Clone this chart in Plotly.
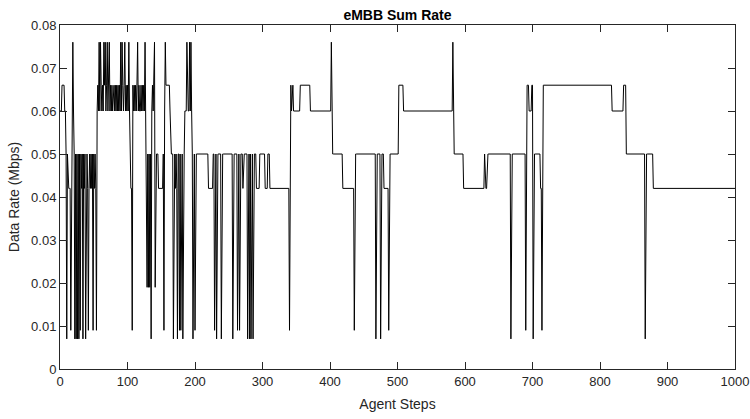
import plotly.graph_objects as go

# Run-length reading of the eMBB sum-rate trace: each run starts at run_start
# and holds run_value until the next run starts.
run_start = [
    0, 3, 7, 9, 10, 11, 12, 16, 17, 18, 19, 20, 21, 22, 23, 24, 25, 26, 27, 28,
    29, 30, 31, 32, 33, 34, 35, 36, 37, 38, 39, 41, 42, 43, 44, 45, 46, 47, 48, 49,
    50, 51, 52, 53, 54, 55, 56, 57, 58, 59, 60, 61, 62, 63, 64, 65, 66, 67, 68, 69,
    70, 71, 72, 73, 74, 75, 76, 77, 78, 79, 81, 82, 83, 84, 85, 86, 87, 88, 89, 90,
    91, 92, 93, 94, 95, 96, 97, 98, 99, 100, 101, 102, 103, 104, 105, 107, 108, 109, 110, 111,
    112, 113, 114, 115, 116, 117, 118, 120, 121, 122, 123, 124, 125, 126, 127, 128, 129, 130, 131, 132,
    133, 134, 135, 136, 137, 138, 139, 140, 141, 142, 146, 153, 154, 155, 156, 157, 163, 164, 168, 169,
    171, 172, 173, 174, 175, 177, 178, 179, 180, 182, 183, 185, 188, 189, 192, 193, 194, 195, 196, 197,
    198, 200, 201, 220, 227, 229, 230, 232, 233, 239, 240, 256, 257, 263, 264, 266, 267, 271, 272, 278,
    279, 281, 282, 283, 284, 286, 287, 291, 296, 304, 308, 311, 340, 341, 342, 343, 344, 346, 356, 371,
    402, 403, 419, 436, 437, 468, 469, 475, 476, 480, 487, 488, 502, 509, 582, 583, 598, 629, 630, 633,
    668, 669, 690, 691, 695, 699, 701, 702, 712, 714, 715, 818, 835, 839, 867, 868, 879,
]
run_value = [
    0.060, 0.066, 0.060, 0.050, 0.007, 0.050, 0.042, 0.009, 0.042, 0.060, 0.076, 0.060, 0.050, 0.007, 0.050, 0.007, 0.050, 0.007, 0.050, 0.007,
    0.050, 0.009, 0.050, 0.042, 0.050, 0.007, 0.050, 0.042, 0.050, 0.007, 0.050, 0.042, 0.009, 0.042, 0.050, 0.042, 0.050, 0.042, 0.050, 0.009,
    0.050, 0.042, 0.050, 0.042, 0.009, 0.060, 0.066, 0.060, 0.076, 0.060, 0.076, 0.066, 0.060, 0.066, 0.060, 0.076, 0.066, 0.076, 0.060, 0.066,
    0.076, 0.060, 0.066, 0.076, 0.060, 0.066, 0.060, 0.066, 0.060, 0.066, 0.060, 0.066, 0.060, 0.066, 0.060, 0.066, 0.060, 0.066, 0.060, 0.076,
    0.060, 0.076, 0.066, 0.060, 0.066, 0.076, 0.060, 0.066, 0.060, 0.066, 0.060, 0.076, 0.060, 0.050, 0.042, 0.009, 0.066, 0.060, 0.066, 0.060,
    0.066, 0.060, 0.066, 0.076, 0.060, 0.066, 0.060, 0.066, 0.060, 0.066, 0.060, 0.066, 0.060, 0.076, 0.060, 0.050, 0.019, 0.050, 0.019, 0.050,
    0.019, 0.050, 0.007, 0.060, 0.066, 0.060, 0.066, 0.076, 0.019, 0.050, 0.042, 0.050, 0.009, 0.060, 0.076, 0.066, 0.060, 0.050, 0.007, 0.050,
    0.042, 0.050, 0.042, 0.007, 0.050, 0.009, 0.050, 0.009, 0.050, 0.007, 0.050, 0.060, 0.076, 0.060, 0.076, 0.060, 0.076, 0.060, 0.050, 0.007,
    0.050, 0.009, 0.050, 0.042, 0.050, 0.009, 0.050, 0.007, 0.050, 0.007, 0.050, 0.007, 0.050, 0.009, 0.050, 0.009, 0.050, 0.042, 0.050, 0.007,
    0.050, 0.007, 0.050, 0.007, 0.050, 0.007, 0.050, 0.042, 0.050, 0.042, 0.050, 0.042, 0.009, 0.060, 0.066, 0.060, 0.066, 0.060, 0.066, 0.060,
    0.076, 0.050, 0.042, 0.009, 0.050, 0.007, 0.050, 0.007, 0.050, 0.042, 0.009, 0.050, 0.066, 0.060, 0.076, 0.050, 0.042, 0.050, 0.042, 0.050,
    0.007, 0.050, 0.009, 0.066, 0.060, 0.066, 0.007, 0.050, 0.042, 0.009, 0.066, 0.060, 0.066, 0.050, 0.007, 0.050, 0.042,
]
last_step = 1000

x_ticks = [0, 100, 200, 300, 400, 500, 600, 700, 800, 900, 1000]
y_ticks = [0, 0.01, 0.02, 0.03, 0.04, 0.05, 0.06, 0.07, 0.08]
y_tick_text = ["0", "0.01", "0.02", "0.03", "0.04", "0.05", "0.06", "0.07", "0.08"]

# expand runs into one value per agent step
steps, rates = [], []
k = 0
for s in range(0, last_step + 1):
    while k + 1 < len(run_start) and run_start[k + 1] <= s:
        k += 1
    steps.append(s)
    rates.append(run_value[k])

axis_col = "#262626"
font_fam = "Liberation Sans, Arial, Helvetica, sans-serif"

fig = go.Figure()
fig.add_trace(go.Scatter(x=steps, y=rates, mode="lines",
                         line=dict(color="black", width=1), showlegend=False))

fig.update_layout(
    width=750, height=419,
    margin=dict(l=60, r=15, t=25, b=50, autoexpand=False),
    paper_bgcolor="white", plot_bgcolor="white",
    font=dict(family=font_fam, size=13, color=axis_col),
    title=dict(text="<b>eMBB Sum Rate</b>", font=dict(size=14, color="black"),
               x=0.5, xref="paper", xanchor="center",
               y=1 - 15 / 419, yref="container", yanchor="middle"),
)
fig.update_xaxes(range=[0, 1000], tickvals=x_ticks, ticks="inside", ticklen=7,
                 tickcolor=axis_col, showline=True, linecolor=axis_col, linewidth=1,
                 mirror="ticks", showgrid=False, zeroline=False, automargin=False,
                 title=dict(text="Agent Steps", font=dict(size=14), standoff=11))
fig.update_yaxes(range=[0, 0.08], tickvals=y_ticks, ticktext=y_tick_text,
                 ticks="inside", ticklen=7, tickcolor=axis_col,
                 showline=True, linecolor=axis_col, linewidth=1,
                 mirror="ticks", showgrid=False, zeroline=False, automargin=False,
                 title=dict(text="Data Rate (Mbps)", font=dict(size=14), standoff=8))

fig.write_html("out.html")
